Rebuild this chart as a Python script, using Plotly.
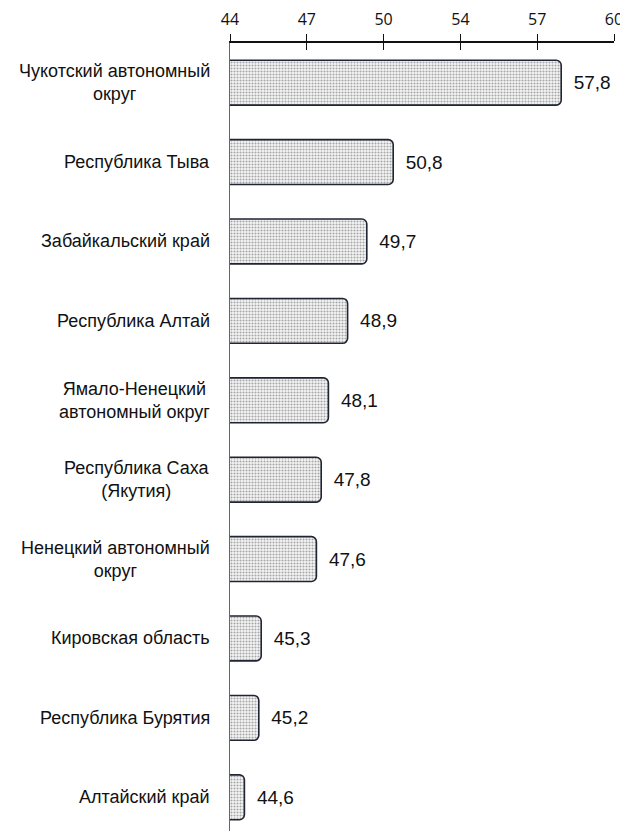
import plotly.graph_objects as go

categories = [
    "Чукотский автономный<br>округ",
    "Республика Тыва",
    "Забайкальский край",
    "Республика Алтай",
    "Ямало-Ненецкий<br>автономный округ",
    "Республика Саха<br>(Якутия)",
    "Ненецкий автономный<br>округ",
    "Кировская область",
    "Республика Бурятия",
    "Алтайский край",
]
values = [57.8, 50.8, 49.7, 48.9, 48.1, 47.8, 47.6, 45.3, 45.2, 44.6]
tick_values = [44, 47.2, 50.4, 53.6, 56.8, 60]
tick_labels = ["44", "47", "50", "54", "57", "60"]
x_range = [44, 60]

value_text = ["\u2002" + f"{v:.1f}".replace(".", ",") for v in values]

fig = go.Figure()
fig.add_trace(go.Bar(
    x=values,
    y=categories,
    orientation="h",
    width=0.565,
    marker=dict(
        color="#f4f4f4",
        line=dict(color="#1f2533", width=1.6),
        cornerradius=5,
        pattern=dict(shape=".", size=3, solidity=0.4, fgcolor="#555555", bgcolor="#f6f6f6"),
    ),
    text=value_text,
    textposition="outside",
    cliponaxis=False,
    textfont=dict(family="Liberation Sans", size=19, color="#111111"),
    hoverinfo="skip",
))
# invisible trace to carry the overlaid axis (inner half of the ticks)
fig.add_trace(go.Scatter(x=x_range, y=[categories[0], categories[0]], xaxis="x2",
                         mode="markers", marker=dict(opacity=0), hoverinfo="skip", showlegend=False))

for c in categories:
    fig.add_annotation(
        x=0, xref="paper", y=c, yref="y", xanchor="right", yanchor="middle",
        xshift=-18, align="center", showarrow=False, text=c,
        font=dict(family="Liberation Sans", size=18, color="#111111"),
    )

fig.update_layout(
    width=620, height=823,
    margin=dict(l=222, r=14, t=33, b=0),
    paper_bgcolor="white", plot_bgcolor="white",
    showlegend=False,
    xaxis=dict(
        side="top", range=x_range, tickvals=tick_values, ticktext=tick_labels,
        ticks="outside", ticklen=7, tickwidth=1.2, tickcolor="#111111",
        ticklabelstandoff=3,
        showline=True, linecolor="#111111", linewidth=1.5,
        showgrid=False, zeroline=False,
        tickfont=dict(family="Open Sans", size=16, color="#111111"),
    ),
    xaxis2=dict(
        side="top", overlaying="x", range=x_range, tickvals=tick_values,
        ticks="inside", ticklen=7, tickwidth=1.2, tickcolor="#111111",
        showticklabels=False, showgrid=False, zeroline=False, showline=False,
    ),
    yaxis=dict(
        categoryorder="array", categoryarray=categories,
        range=[9.425, -0.5],
        showticklabels=False, ticks="",
        showline=True, linecolor="#666666", linewidth=1.2,
        showgrid=False, zeroline=False,
    ),
)

fig.write_html("out.html")
